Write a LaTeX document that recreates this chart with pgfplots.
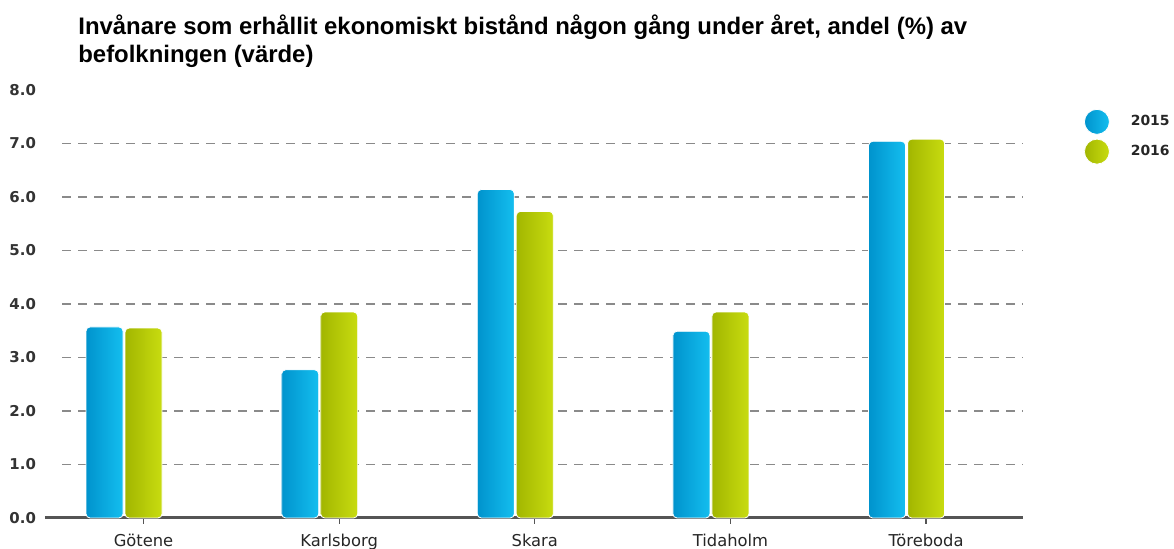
\documentclass[border=0pt]{standalone}
\usepackage{pgfplots}
\pgfplotsset{compat=1.18}
\usepackage{fontspec}
\setmainfont{DejaVu Sans}
\newfontfamily\titlefont{Liberation Sans}

\definecolor{blueL}{HTML}{0093CD}
\definecolor{blueR}{HTML}{14BEEF}
\definecolor{greenL}{HTML}{A2B600}
\definecolor{greenR}{HTML}{C8DC10}
\definecolor{gridgray}{HTML}{8A8A8A}
\definecolor{axisgray}{HTML}{555555}

% one \addplot per bar so that every bar gets its own left-right shading
\pgfplotsset{
  bar2015/.style={ybar, bar width=0.189, bar shift=-0.0997, draw=white, line width=0.4bp,
    left color=blueL, right color=blueR, rounded corners=2bp,
    legend image code/.code={\shade[left color=blueL,right color=blueR] (6.25bp,0bp) circle (6.25bp);}},
  bar2016/.style={ybar, bar width=0.189, bar shift=0.0997, draw=white, line width=0.4bp,
    left color=greenL, right color=greenR, rounded corners=2bp,
    legend image code/.code={\shade[left color=greenL,right color=greenR] (6.25bp,0bp) circle (6.25bp);}},
}

\begin{document}
\begin{tikzpicture}
\begin{axis}[
  scale only axis,
  width=489bp, height=214bp,
  xmin=-0.404, xmax=4.595,
  ymin=0, ymax=8,
  clip=false,
  axis lines*=left,
  x axis line style={-, axisgray, line width=1.5bp},
  y axis line style={draw=none},
  xtick={0.0997,1.0997,2.0997,3.0997,4.0997},
  xticklabels={Götene,Karlsborg,Skara,Tidaholm,Töreboda},
  ytick={0,...,8},
  tick align=outside,
  major tick length=3bp,
  xtick style={axisgray, line width=0.6bp},
  ytick style={draw=none},
  scaled y ticks=false,
  yticklabel style={
    /pgf/number format/fixed,
    /pgf/number format/fixed zerofill,
    /pgf/number format/precision=1,
    /pgf/number format/assume math mode=true,
    font=\bfseries\fontsize{7.5}{9}\selectfont, text=black!80, xshift=2bp},
  xticklabel style={font=\fontsize{8.2}{10}\selectfont, text=black!85, yshift=-1.5bp},
  legend style={draw=none, fill=none, at={(rel axis cs:1.0559,0.966)},
    anchor=north west, font=\bfseries\fontsize{7}{8.4}\selectfont,
    row sep=2bp, text=black!85,
    /tikz/every odd column/.append style={column sep=8.5bp}},
  legend cell align=left,
]
% dashed gridlines, starting a little right of the axis start as in the original
\pgfplotsinvokeforeach{1,...,7}{
  \draw[gridgray, line width=0.75bp, dash pattern=on 4.25bp off 3.75bp]
    (axis cs:-0.317,#1) -- (axis cs:4.595,#1);
}

\addplot[bar2015] coordinates {(0,3.57)};
\addlegendentry{2015}
\addplot[bar2016] coordinates {(0,3.55)};
\addlegendentry{2016}
\addplot[bar2015, forget plot] coordinates {(1,2.77)};
\addplot[bar2016, forget plot] coordinates {(1,3.85)};
\addplot[bar2015, forget plot] coordinates {(2,6.14)};
\addplot[bar2016, forget plot] coordinates {(2,5.73)};
\addplot[bar2015, forget plot] coordinates {(3,3.49)};
\addplot[bar2016, forget plot] coordinates {(3,3.85)};
\addplot[bar2015, forget plot] coordinates {(4,7.04)};
\addplot[bar2016, forget plot] coordinates {(4,7.08)};

\node[anchor=base west, inner sep=0pt, font=\titlefont\bfseries\fontsize{12}{13.5}\selectfont]
  at (rel axis cs:0.0337,1.1285) {Invånare som erhållit ekonomiskt bistånd någon gång under året, andel (\%) av};
\node[anchor=base west, inner sep=0pt, font=\titlefont\bfseries\fontsize{12}{13.5}\selectfont]
  at (rel axis cs:0.0337,1.0654) {befolkningen (värde)};
\coordinate (bbA) at (rel axis cs:-0.046,-0.07243);
\coordinate (bbB) at (rel axis cs:1.1544,1.21028);
\end{axis}
\pgfresetboundingbox
\path[use as bounding box] (bbA) rectangle (bbB);
\end{tikzpicture}
\end{document}
